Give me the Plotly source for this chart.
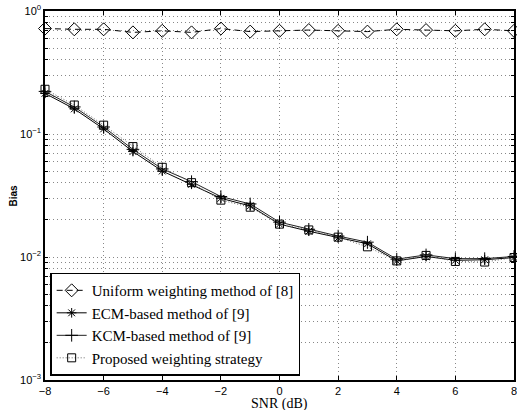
import plotly.graph_objects as go

snr = [-8, -7, -6, -5, -4, -3, -2, -1, 0, 1, 2, 3, 4, 5, 6, 7, 8]
uniform = [0.72, 0.71, 0.71, 0.67, 0.69, 0.67, 0.72, 0.68, 0.69, 0.70, 0.69, 0.68, 0.71, 0.70, 0.69, 0.71, 0.69]
ecm = [0.214, 0.160, 0.110, 0.072, 0.050, 0.039, 0.030, 0.026, 0.0185, 0.0162, 0.0143, 0.0128, 0.0093, 0.0101, 0.0094, 0.0095, 0.0099]
kcm = [0.222, 0.166, 0.114, 0.075, 0.052, 0.041, 0.031, 0.027, 0.0192, 0.0168, 0.0148, 0.0132, 0.0096, 0.0104, 0.0097, 0.0097, 0.0101]
proposed = [0.231, 0.172, 0.118, 0.079, 0.0536, 0.0402, 0.029, 0.0254, 0.0185, 0.0166, 0.0145, 0.0121, 0.0093, 0.0103, 0.0092, 0.0091, 0.0099]
names = ["Uniform weighting method of [8]", "ECM-based method of [9]",
         "KCM-based method of [9]", "Proposed weighting strategy"]

x_ticks = [-8, -6, -4, -2, 0, 2, 4, 6, 8]
x_ticktext = ["\u22128", "\u22126", "\u22124", "\u22122", "0", "2", "4", "6", "8"]

y_vals = []
y_text = []
for e in [-3, -2, -1]:
    for m in range(1, 10):
        y_vals.append(m * 10 ** e)
        y_text.append("10<sup>%s</sup>" % ("\u2212" + str(-e)) if m == 1 else "")
y_vals.append(1.0)
y_text.append("10<sup>0</sup>")

fig = go.Figure()
fig.add_trace(go.Scatter(x=snr, y=uniform, name=names[0], mode="lines+markers", cliponaxis=False,
                         line=dict(color="black", width=1, dash="6px,4px"),
                         marker=dict(symbol="diamond-open", size=10, color="black", line=dict(width=1))))
fig.add_trace(go.Scatter(x=snr, y=ecm, name=names[1], mode="lines+markers", cliponaxis=False,
                         line=dict(color="black", width=1),
                         marker=dict(symbol="asterisk-open", size=8, color="black", line=dict(width=1))))
fig.add_trace(go.Scatter(x=snr, y=kcm, name=names[2], mode="lines+markers", cliponaxis=False,
                         line=dict(color="#222222", width=1),
                         marker=dict(symbol="cross-thin-open", size=9, color="black", line=dict(width=1))))
fig.add_trace(go.Scatter(x=snr, y=proposed, name=names[3], mode="lines+markers", cliponaxis=False,
                         line=dict(color="#666666", width=1, dash="1px,2px"),
                         marker=dict(symbol="square-open", size=8, color="black", line=dict(width=1))))

grid = dict(showgrid=True, gridcolor="#888888", griddash="1px,3px", gridwidth=1)
fig.update_layout(
    width=517, height=410,
    margin=dict(l=45, r=3, t=11, b=30),
    paper_bgcolor="white", plot_bgcolor="white",
    showlegend=True,
    legend=dict(x=0.011, y=0.012, xanchor="left", yanchor="bottom",
                bgcolor="white", bordercolor="black", borderwidth=1.5,
                font=dict(family="Liberation Serif", size=15, color="black"),
                tracegroupgap=0, itemwidth=30),
    xaxis=dict(range=[-8, 8], tickvals=x_ticks, ticktext=x_ticktext,
               ticks="inside", ticklen=4, tickcolor="black", ticklabeloverflow="allow",
               showline=True, linecolor="black", linewidth=1.5, mirror="ticks",
               zeroline=False, automargin=False,
               tickfont=dict(family="Liberation Sans", size=11, color="black"),
               **grid),
    yaxis=dict(type="log", range=[-3, 0], tickvals=y_vals, ticktext=y_text,
               ticks="inside", ticklen=3, tickcolor="black", ticklabeloverflow="allow",
               showline=True, linecolor="black", linewidth=1.5, mirror="ticks",
               zeroline=False, automargin=False,
               tickfont=dict(family="Liberation Sans", size=11, color="black"),
               **grid),
    annotations=[
        dict(text="SNR (dB)", x=0.5, y=0, xref="paper", yref="paper",
             xanchor="center", yanchor="top", yshift=-14, showarrow=False,
             font=dict(family="Liberation Serif", size=14, color="black")),
        dict(text="<b>Bias</b>", x=0, y=0.5, xref="paper", yref="paper",
             xanchor="center", yanchor="middle", xshift=-32, textangle=-90, showarrow=False,
             font=dict(family="Liberation Sans", size=10, color="black")),
    ],
)
fig.write_html("out.html", config={"displayModeBar": False},
               post_script="document.body.style.margin='0';document.body.style.overflow='hidden';")
